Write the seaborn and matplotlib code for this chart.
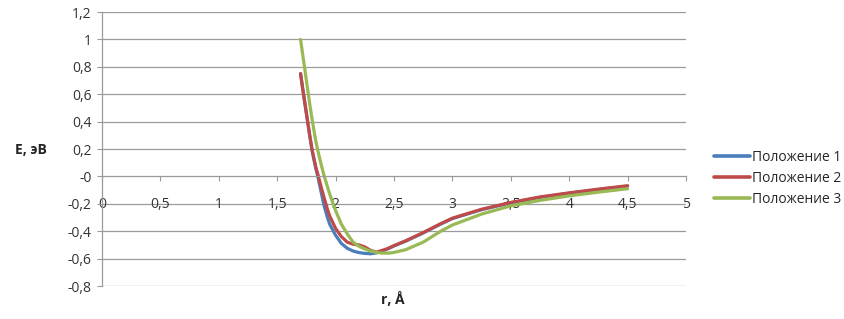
import numpy as np
import pandas as pd
import matplotlib
matplotlib.use('Agg')
import matplotlib.pyplot as plt
from matplotlib.ticker import FuncFormatter
import seaborn as sns

# r, angstrom
r = [1.7, 1.72, 1.75, 1.78, 1.8, 1.83, 1.85, 1.88, 1.9, 1.93, 1.95, 2.0, 2.05, 2.1,
     2.15, 2.2, 2.25, 2.3, 2.35, 2.4, 2.45, 2.5, 2.6, 2.75, 2.9, 3.0, 3.25, 3.5,
     3.75, 4.0, 4.25, 4.5]

# energies, eV
pos1 = [0.75, 0.63, 0.46, 0.29, 0.18, 0.06, -0.01, -0.13, -0.21, -0.30, -0.35, -0.43, -0.49, -0.525,
        -0.545, -0.556, -0.562, -0.565, -0.558, -0.545, -0.528, -0.508, -0.473, -0.413, -0.348, -0.308,
        -0.243, -0.193, -0.153, -0.123, -0.096, -0.071]
pos2 = [0.75, 0.63, 0.46, 0.29, 0.19, 0.07, 0.01, -0.09, -0.15, -0.24, -0.29, -0.38, -0.44, -0.48,
        -0.495, -0.50, -0.515, -0.54, -0.553, -0.54, -0.525, -0.505, -0.47, -0.41, -0.345, -0.305,
        -0.24, -0.19, -0.15, -0.12, -0.093, -0.068]
pos3 = [1.0, 0.88, 0.70, 0.52, 0.41, 0.26, 0.18, 0.075, 0.01, -0.075, -0.13, -0.25, -0.35, -0.42,
        -0.48, -0.51, -0.53, -0.545, -0.555, -0.56, -0.56, -0.555, -0.535, -0.48, -0.40, -0.355,
        -0.275, -0.215, -0.175, -0.142, -0.115, -0.09]

names = ['Положение 1', 'Положение 2', 'Положение 3']
colors = ['#4a7ebb', '#be4b48', '#98b954']

df = pd.DataFrame({'r': r * 3,
                   'E': pos1 + pos2 + pos3,
                   'series': [names[0]] * len(r) + [names[1]] * len(r) + [names[2]] * len(r)})

sns.set_style('white')
plt.rcParams['font.family'] = ['Open Sans', 'DejaVu Sans']

fig = plt.figure(figsize=(8.44, 3.19), dpi=100)
ax = fig.add_axes([102 / 844, 1 - 286 / 319, 584 / 844, 274 / 319])

# grid
for y in np.arange(-0.8, 1.21, 0.2):
    if abs(y) > 1e-6:
        ax.axhline(y, color='#9a9a9a', lw=0.9, zorder=0)

sns.lineplot(data=df, x='r', y='E', hue='series', palette=colors, lw=2.3,
             ax=ax, legend=False, sort=False)
for ln in ax.lines:
    ln.set_solid_joinstyle('round')
    ln.set_solid_capstyle('round')

ax.set_xlim(0, 5)
ax.set_ylim(-0.8, 1.2)
ax.set_xticks(np.arange(0, 5.01, 0.5))
ax.set_yticks(np.arange(-0.8, 1.21, 0.2))
fmt = FuncFormatter(lambda v, p: ('%g' % round(v, 2)).replace('.', ','))
ax.xaxis.set_major_formatter(fmt)
ax.yaxis.set_major_formatter(fmt)

for s in ['top', 'right']:
    ax.spines[s].set_visible(False)
ax.spines['bottom'].set_position(('data', 0))
ax.spines['bottom'].set_color('#9a9a9a')
ax.spines['left'].set_color('#9a9a9a')
ax.spines['bottom'].set_linewidth(0.9)
ax.spines['left'].set_linewidth(0.9)
ax.tick_params(axis='x', direction='out', length=3.5, width=0.8, color='#9a9a9a',
               pad=11, labelsize=10, labelcolor='#333333', bottom=True)
ax.tick_params(axis='y', direction='out', length=3.5, width=0.8, color='#9a9a9a',
               pad=4, labelsize=10, labelcolor='#333333', left=True)

ax.set_xlabel('')
ax.set_ylabel('')
fig.text(15 / 844, 1 - 150 / 319, 'E, эВ', fontsize=10, fontweight='bold',
         va='center', ha='left', color='#222222')
fig.text(393 / 844, 1 - 300 / 319, 'r, Å', fontsize=10, fontweight='bold',
         va='center', ha='center', color='#222222')

handles = [plt.Line2D([], [], color=c, lw=2.6) for c in colors]
fig.legend(handles, names, loc='upper left', bbox_to_anchor=(708 / 844, 1 - 144 / 319),
           frameon=False, fontsize=10, handlelength=2.6, handletextpad=0.15,
           labelspacing=0.45, borderaxespad=0)

fig.savefig('out.png', dpi=100)
